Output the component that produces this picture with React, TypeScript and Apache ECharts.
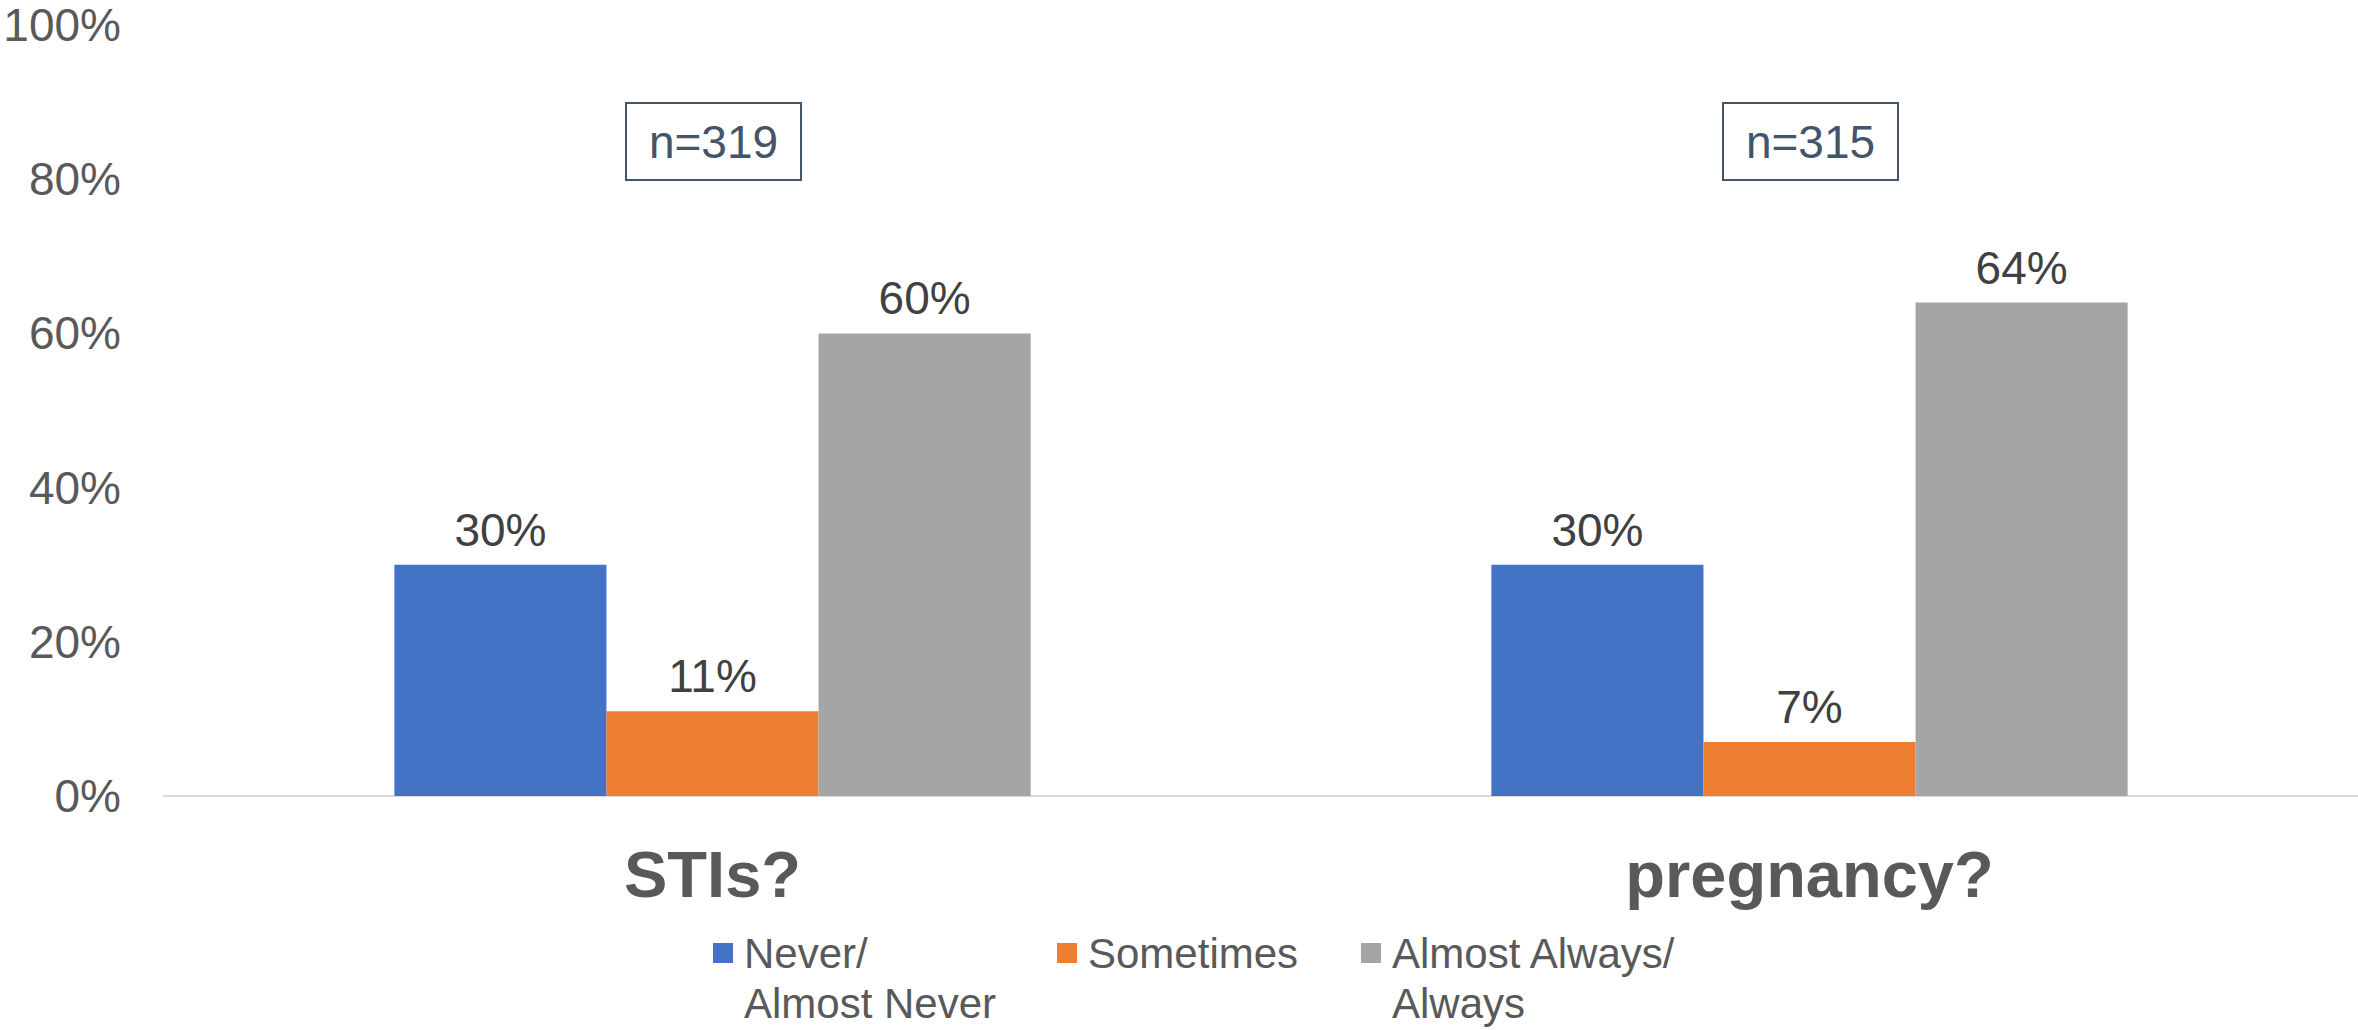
import React, { useEffect, useRef } from "react";
import * as echarts from "echarts";

const categories = ["STIs?", "pregnancy?"];
const seriesNames = ["Never/Almost Never", "Sometimes", "Almost Always/Always"];
const legendLabels = ["Never/\nAlmost Never", "Sometimes", "Almost Always/\nAlways"];
const neverValues = [30, 30];
const sometimesValues = [11, 7];
const alwaysValues = [60, 64];
const sampleSizes = ["n=319", "n=315"];
const yTicks = { min: 0, max: 100, interval: 20 };
const colors = ["#4472C4", "#ED7D31", "#A5A5A5"];

const FONT = "'Liberation Sans', Arial, sans-serif";

export default function App() {
  const ref = useRef<HTMLDivElement>(null);

  useEffect(() => {
    if (!ref.current) return;
    const chart = echarts.init(ref.current, null, { renderer: "svg" });
    const values = [neverValues, sometimesValues, alwaysValues];

    const legendPos = [
      { left: 713, top: 878 },
      { left: 1057, top: 928 },
      { left: 1361, top: 878 },
    ];

    const option: any = {
      animation: false,
      backgroundColor: "#ffffff",
      textStyle: { fontFamily: FONT },
      grid: { left: 164, right: 0, top: 25, bottom: 234, containLabel: false },
      xAxis: {
        type: "category",
        data: categories,
        axisLine: { show: true, lineStyle: { color: "#D9D9D9", width: 2 } },
        axisTick: { show: false },
        axisLabel: {
          margin: 46,
          fontFamily: FONT,
          fontSize: 65,
          fontWeight: "bold",
          color: "#595959",
        },
        splitLine: { show: false },
      },
      yAxis: {
        type: "value",
        min: yTicks.min,
        max: yTicks.max,
        interval: yTicks.interval,
        axisLine: { show: false },
        axisTick: { show: false },
        splitLine: { show: false },
        axisLabel: {
          formatter: "{value}%",
          margin: 43,
          fontFamily: FONT,
          fontSize: 46,
          color: "#595959",
        },
      },
      legend: seriesNames.map((name, i) => {
        const multi = legendLabels[i].includes("\n");
        return {
          data: [name],
          left: legendPos[i].left,
          top: legendPos[i].top,
          padding: 0,
          itemWidth: 20,
          itemHeight: 20,
          itemGap: 0,
          icon: "rect",
          selectedMode: false,
          formatter: () => (multi ? "\n" + legendLabels[i] : legendLabels[i]),
          textStyle: {
            fontFamily: FONT,
            fontSize: 42,
            color: "#595959",
            lineHeight: 50,
            padding: [0, 0, 0, 6],
          },
        };
      }),
      series: seriesNames.map((name, i) => ({
        type: "bar",
        name,
        data: values[i],
        barGap: "0%",
        barCategoryGap: "42%",
        itemStyle: { color: colors[i] },
        label: {
          show: true,
          position: "top",
          distance: 12,
          formatter: "{c}%",
          fontFamily: FONT,
          fontSize: 46,
          color: "#404040",
        },
      })),
    };
    chart.setOption(option);

    const boxW = 175;
    const boxH = 77;
    const graphics = sampleSizes.map((txt, i) => {
      const cx = chart.convertToPixel({ xAxisIndex: 0 }, categories[i]) as number;
      return {
        type: "group",
        left: cx - boxW / 2,
        top: 102,
        children: [
          {
            type: "rect",
            shape: { x: 0, y: 0, width: boxW, height: boxH },
            style: { fill: "#ffffff", stroke: "#44546A", lineWidth: 2 },
          },
          {
            type: "text",
            x: boxW / 2,
            y: boxH / 2,
            style: {
              text: txt,
              fontFamily: FONT,
              fontSize: 46,
              fill: "#44546A",
              align: "center",
              verticalAlign: "middle",
            },
          },
        ],
      };
    });
    chart.setOption({ graphic: graphics });

    return () => chart.dispose();
  }, []);

  return (
    <div
      ref={ref}
      style={{ position: "absolute", left: 0, top: 0, width: 2358, height: 1030 }}
    />
  );
}
